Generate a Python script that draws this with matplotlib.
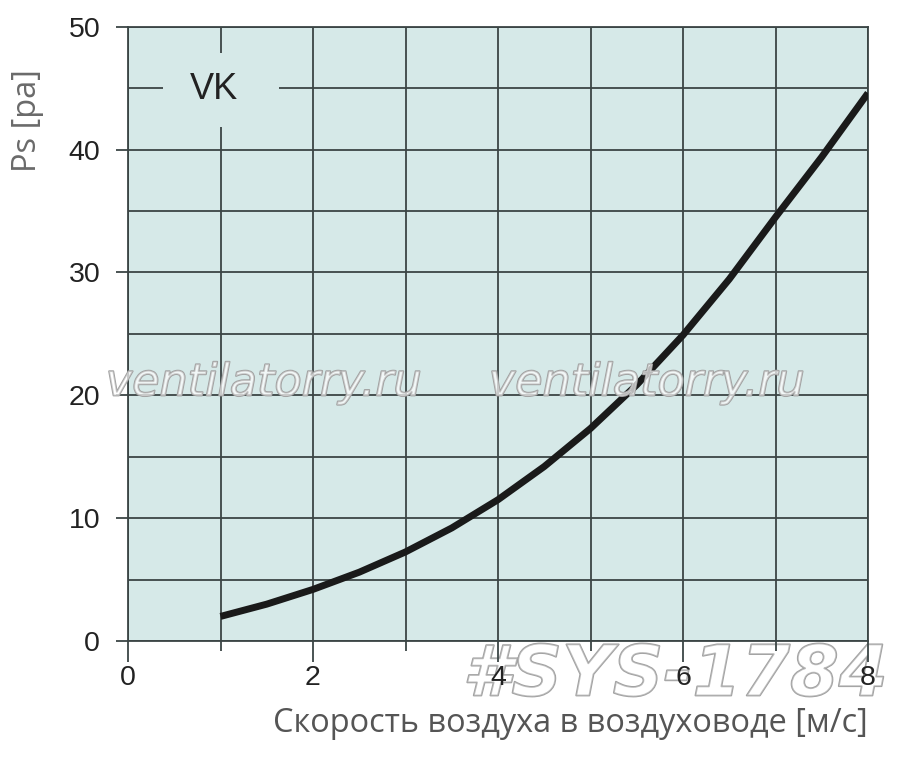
import matplotlib
matplotlib.use("Agg")
import matplotlib.pyplot as plt
from matplotlib.patches import Rectangle
from matplotlib.ticker import MultipleLocator
import matplotlib.patheffects as pe

# air speed in duct [m/s] vs static pressure [pa]
speed = [1.0, 1.5, 2.0, 2.5, 3.0, 3.5, 4.0, 4.5, 5.0, 5.5, 6.0, 6.5, 7.0, 7.5, 8.0]
ps = [2.0, 3.0, 4.2, 5.6, 7.25, 9.2, 11.5, 14.2, 17.3, 20.85, 24.9, 29.45, 34.5, 39.4, 44.6]

x_ticks = [0, 2, 4, 6, 8]
y_ticks = [0, 10, 20, 30, 40, 50]
model = "VK"
xlabel = "Скорость воздуха в воздуховоде [м/с]"
ylabel = "Ps [pa]"

bg = "#d6e9e8"
gridc = "#3b4545"

fig = plt.figure(figsize=(9, 7.57), dpi=100)
ax = fig.add_axes([128/900, 1-641/757, 740/900, (641-26.7)/757])
ax.set_facecolor(bg)
ax.set_xlim(0, 8)
ax.set_ylim(0, 50)

ax.xaxis.set_minor_locator(MultipleLocator(1))
ax.yaxis.set_minor_locator(MultipleLocator(5))
ax.set_xticks(x_ticks)
ax.set_yticks(y_ticks)

ax.set_axisbelow(True)
ax.grid(True, which="both", color=gridc, lw=1.3)
for s in ax.spines.values():
  s.set_color(gridc)
  s.set_linewidth(1.3)

ax.tick_params(axis="x", which="major", length=15, width=1.3, color=gridc, pad=2,
               labelsize=20.5, labelcolor="#222222")
ax.tick_params(axis="x", which="minor", length=7, width=1.3, color=gridc)
ax.tick_params(axis="y", which="major", length=9, width=1.3, color=gridc, pad=11,
               labelsize=20.5, labelcolor="#222222")
ax.tick_params(axis="y", which="minor", length=0)
for lab in ax.get_xticklabels() + ax.get_yticklabels():
  lab.set_family(["Liberation Sans", "DejaVu Sans"])

# cut-out around the model name
ax.add_patch(Rectangle((0.38, 41.8), 1.25, 6.1, facecolor=bg, edgecolor="none", zorder=1))
ax.text(0.93, 44.9, model, ha="center", va="center", fontsize=26, color="#222222",
        family=["Liberation Sans Narrow", "Liberation Sans", "DejaVu Sans"], zorder=2)

ax.plot(speed, ps, color="#1a1a1a", lw=5, solid_capstyle="butt",
        solid_joinstyle="round", zorder=3)

ax.set_xlabel(xlabel, loc="right", fontsize=23.4, color="#555555",
              family=["Open Sans", "DejaVu Sans"], labelpad=12)
ax.set_ylabel(ylabel, fontsize=23.5, color="#6a6a6a", family=["Open Sans", "DejaVu Sans"])
ax.yaxis.set_label_coords(-0.113, 0.848)

# watermarks
wm = [pe.Stroke(linewidth=1.3, foreground="#a0a0a0"), pe.Normal()]
for xc in [264, 647]:
  fig.text(xc/900, 1-383/757, "ventilatorry.ru", ha="center", va="center", fontsize=32,
           style="italic", color=(1, 1, 1, 0.45), path_effects=wm)
# sits under the axes so the tick labels stay on top
fig.text(675/900, 1-676/757, "#SYS-1784", ha="center", va="center", fontsize=50.5,
         style="italic", weight="bold", color=(1, 1, 1, 0.3), path_effects=wm, zorder=-1)

fig.savefig("out.png", dpi=100, facecolor="white")
